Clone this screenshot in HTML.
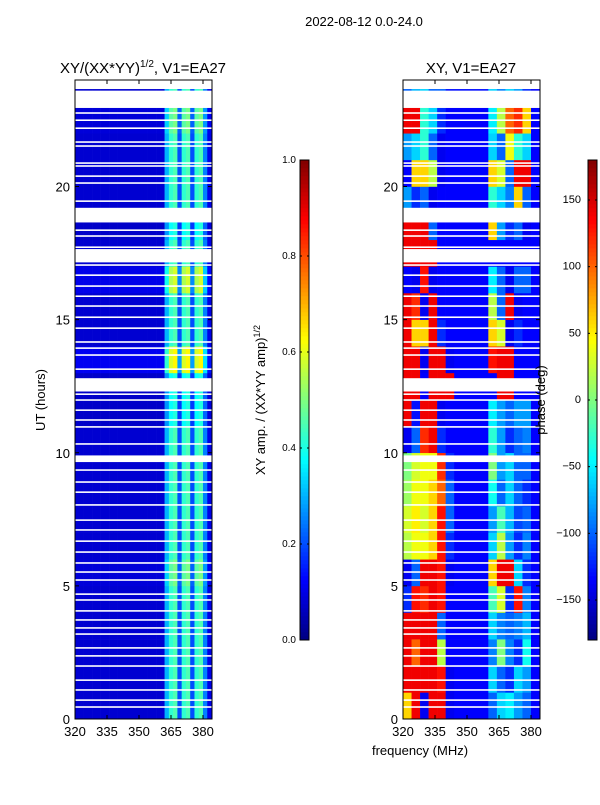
<!DOCTYPE html>
<html><head><meta charset="utf-8"><style>
body{margin:0;background:#fff;}
svg text{font-family:"Liberation Sans",sans-serif;fill:#000;}
</style></head><body>
<svg id="chart" width="600" height="800" xmlns="http://www.w3.org/2000/svg">
<text x="364" y="26" font-size="13" text-anchor="middle">2022-08-12 0.0-24.0</text>
<text x="143" y="73" font-size="15" text-anchor="middle">XY/(XX*YY)<tspan font-size="10" dy="-6">1/2</tspan><tspan dy="6">, V1=EA27</tspan></text>
<text x="471" y="73" font-size="15" text-anchor="middle">XY, V1=EA27</text>
<g id="left"></g>
<g id="right"></g>
<g id="axes"></g>
<text transform="translate(45,400) rotate(-90)" font-size="13" text-anchor="middle">UT (hours)</text>
<text x="420" y="755" font-size="13" text-anchor="middle">frequency (MHz)</text>
<text transform="translate(265,400) rotate(-90)" font-size="13" text-anchor="middle">XY amp. / (XX*YY amp)<tspan font-size="9" dy="-5">1/2</tspan></text>
<text transform="translate(545,400) rotate(-90)" font-size="13" text-anchor="middle">phase (deg)</text>
</svg>
<script>
const ampColProfile=[0.08,0.08,0.08,0.08,0.08,0.08,0.08,0.08,0.08,0.08,0.08,0.08,0.08,0.08,0.08,0.08,0.08,0.08,0.08,0.08,0.08,0.3,0.42,0.45,0.2,0.42,0.45,0.2,0.42,0.45,0.25,0.1];
const ampRowFactor=[1,1,1,1,1,1.1,1,1,1,1,1,0.9,0.9,1.4,1,1,1.3,1,0.9,1,1,1,1.1,1];
const phase=[
[60,140,-140,140,140,-140,-135,-135,-135,-135,-100,-60,-50,-80,-100,-135],
[140,140,140,140,130,-140,-135,-135,-135,-135,-60,-100,-120,-60,-80,-135],
[140,100,140,140,20,-135,-135,-135,-135,-135,-90,0,-90,-120,-40,-135],
[140,140,140,140,-100,-135,-135,-135,-135,-135,-60,-90,-100,-90,-70,-135],
[-120,130,120,140,130,-135,-135,-135,-135,-135,-20,30,-120,130,-90,-135],
[-140,-100,140,140,130,-140,-135,-135,-135,-135,60,140,140,-60,-120,-135],
[20,40,40,60,130,-120,-135,-135,-135,-135,-60,20,-80,-120,-90,-135],
[30,50,30,60,130,-100,-135,-135,-135,-135,-80,-20,-70,-110,-100,-135],
[10,40,40,60,100,-100,-135,-135,-135,-135,-40,-100,-60,-100,-120,-135],
[0,30,40,40,120,-120,-135,-135,-135,-135,0,-80,-60,-100,-100,-135],
[-140,-100,120,140,-120,-135,-135,-135,-135,-135,-30,-80,-120,-100,-90,-135],
[140,-130,140,140,-140,-135,-135,-135,-135,-135,-50,-80,-100,-80,-80,-135],
[140,140,-135,140,140,140,-135,-135,-135,-135,-135,140,140,-135,-135,-135],
[140,140,-140,140,140,-140,-135,-135,-135,-135,130,140,140,-135,-135,-135],
[140,60,60,140,-120,-135,-135,-135,-135,-135,60,30,-140,-120,-135,-135],
[140,120,-140,140,-135,-135,-135,-135,-135,-135,20,-100,140,-140,-135,-135],
[-135,-140,130,-140,-135,-135,-135,-135,-135,-135,-50,-100,-140,-100,-100,-135],
[140,140,140,140,-135,-135,-135,-135,-135,-135,-135,-135,-135,-135,-135,-135],
[140,140,140,-100,-135,-135,-135,-135,-135,-135,60,-80,-120,-100,-140,-135],
[-80,-120,-100,-140,-135,-135,-135,-135,-135,-135,-30,-60,-90,60,-100,-135],
[-135,60,60,20,-140,-135,-135,-135,-135,-135,60,30,-100,140,140,-135],
[-80,-60,-30,-100,-140,-135,-135,-135,-135,-135,-60,-100,40,-30,-60,-135],
[140,140,-30,-60,-120,-135,-135,-135,-135,-135,-50,20,100,120,60,-135],
[-100,-70,-60,-100,-100,-130,-130,-130,-130,-130,-60,-90,-60,-80,-120,-135]];
const gapBands=[[22.95,23.6],[23.66,24],[18.65,19.2],[17.15,17.65],[12.3,12.8],[9.65,9.9]];
const gapLines=[22.76,22.49,22.19,21.67,21.52,20.88,20.77,20.39,20.13,19.45,18.36,18.14,17.72,17.05,16.67,16.26,15.88,15.51,15.09,14.68,14.16,13.93,13.67,13.14,12.2,11.98,11.6,11.23,10.97,10.33,9.35,8.9,8.52,8.04,7.47,7.1,6.68,6.27,5.86,5.52,5.22,4.69,4.47,4.06,3.72,3.42,3.19,2.67,2.37,1.99,1.46,1.09,0.71,0.45];
const xTicks=[320,335,350,365,380];
const yTicks=[0,5,10,15,20];
const ampTicks=[0,0.2,0.4,0.6,0.8,1.0];
const phaseTicks=[-150,-100,-50,0,50,100,150];

const NS="http://www.w3.org/2000/svg";
const svg=document.getElementById('chart');
function jet(v){v=Math.max(0,Math.min(1,v));
 const r=Math.max(0,Math.min(1,1.5-Math.abs(4*v-3))),g=Math.max(0,Math.min(1,1.5-Math.abs(4*v-2))),b=Math.max(0,Math.min(1,1.5-Math.abs(4*v-1)));
 return `rgb(${Math.round(r*255)},${Math.round(g*255)},${Math.round(b*255)})`;}
function mk(tag,attrs,parent){const e=document.createElementNS(NS,tag);for(const k in attrs)e.setAttribute(k,attrs[k]);(parent||svg).appendChild(e);return e;}
const yScale=h=>719-h*(639/24);
const panels=[{x0:75,g:document.getElementById('left')},{x0:403,g:document.getElementById('right')}];
const xScale=(p,f)=>p.x0+(f-320)*(32/15);
ampRowFactor.forEach((rf,i)=>{ampColProfile.forEach((c,j)=>{
 const p=panels[0];const x=xScale(p,320+2*j),x2=xScale(p,322+2*j);
 const r=mk('rect',{x:x,y:yScale(i+1),width:x2-x+0.3,height:yScale(i)-yScale(i+1)+0.3,fill:jet(c*rf)},p.g);
 
 
});});
phase.forEach((row,i)=>{row.forEach((v,j)=>{
 const p=panels[1];const x=xScale(p,320+4*j),x2=xScale(p,324+4*j);
 const r=mk('rect',{x:x,y:yScale(i+1),width:x2-x+0.3,height:yScale(i)-yScale(i+1)+0.3,fill:jet((v+180)/360)},p.g);
 
 
});});
panels.forEach(p=>{
 gapBands.forEach(b=>{const r=mk('rect',{x:p.x0,y:yScale(b[1]),width:137,height:yScale(b[0])-yScale(b[1]),fill:'#fff'},p.g);
  
  });
 gapLines.forEach(h=>{const r=mk('rect',{x:p.x0,y:yScale(h)-0.8,width:137,height:1.6,fill:'#fff'},p.g);
  
  });
 const fr=mk('rect',{x:p.x0,y:80,width:137,height:639,fill:'none',stroke:'#000','stroke-width':1});
 
 
 xTicks.forEach(t=>{const x=xScale(p,t);
  mk('line',{x1:x,x2:x,y1:719,y2:715,stroke:'#000'});mk('line',{x1:x,x2:x,y1:80,y2:84,stroke:'#000'});
  const tx=mk('text',{x:x,y:736,'font-size':13,'text-anchor':'middle'});tx.textContent=t;
  
  });
 yTicks.forEach(t=>{const y=yScale(t);
  mk('line',{x1:p.x0,x2:p.x0+4,y1:y,y2:y,stroke:'#000'});mk('line',{x1:p.x0+137,x2:p.x0+133,y1:y,y2:y,stroke:'#000'});
  const tx=mk('text',{x:p.x0-5,y:y+5,'font-size':13,'text-anchor':'end'});tx.textContent=t;
  
  });
});
function colorbar(x,ticks,lo,hi,name){
 const g=mk('g',{});
 
 
 for(let k=0;k<120;k++){mk('rect',{x:x,y:640-(k+1)*4,width:9,height:4.3,fill:jet((k+0.5)/120)},g);}
 mk('rect',{x:x,y:160,width:9,height:480,fill:'none',stroke:'#000'},g);
 ticks.forEach(t=>{const y=640-(t-lo)/(hi-lo)*480;
  mk('line',{x1:x,x2:x+2,y1:y,y2:y,stroke:'#000'},g);mk('line',{x1:x+9,x2:x+7,y1:y,y2:y,stroke:'#000'},g);
  const tx=mk('text',{x:x+(lo<0?-7:-4),y:y+3,'font-size':lo<0?11:10,'text-anchor':'end'},g);
  tx.textContent=(lo<0?String(t).replace('-','\u2212'):t.toFixed(1));
  
  });
}
colorbar(300,ampTicks,0,1,'amp-colorbar');
colorbar(588,phaseTicks,-180,180,'phase-colorbar');
</script>
</body></html>
